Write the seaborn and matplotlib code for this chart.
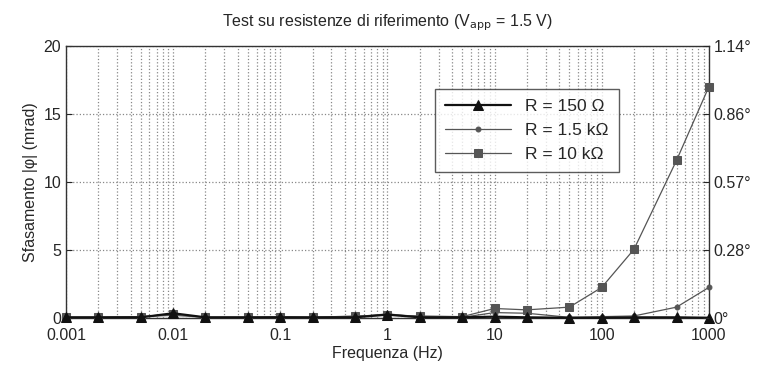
import numpy as np
import pandas as pd
import matplotlib
matplotlib.use('Agg')
import matplotlib.pyplot as plt
import seaborn as sns

# dati (mrad)
freq = [0.001, 0.002, 0.005, 0.01, 0.02, 0.05, 0.1, 0.2, 0.5, 1,
        2, 5, 10, 20, 50, 100, 200, 500, 1000]
r150 = [0.05, 0.05, 0.05, 0.35, 0.05, 0.05, 0.05, 0.05, 0.05, 0.25,
        0.05, 0.05, 0.1, 0.05, 0.02, 0.02, 0.05, 0.05, 0.02]
r1k5 = [0.05, 0.05, 0.1, 0.2, 0.05, 0.05, 0.05, 0.05, 0.1, 0.3,
        0.1, 0.05, 0.4, 0.35, 0.05, 0.1, 0.15, 0.8, 2.25]
r10k = [0.05, 0.05, 0.1, 0.3, 0.05, 0.05, 0.1, 0.05, 0.15, 0.2,
        0.15, 0.1, 0.7, 0.6, 0.8, 2.25, 5.05, 11.6, 17.0]
labels = ['R = 150 Ω', 'R = 1.5 kΩ', 'R = 10 kΩ']
yticks = [0, 5, 10, 15, 20]
yticks_deg = ['0°', '0.28°', '0.57°', '0.86°', '1.14°']
xticks = [0.001, 0.01, 0.1, 1, 10, 100, 1000]
xtick_labels = ['0.001', '0.01', '0.1', '1', '10', '100', '1000']

sns.set_style("white")
plt.rcParams['font.family'] = ['Liberation Sans', 'DejaVu Sans']

df = pd.DataFrame({
    'f': freq * 3,
    'phi': r150 + r1k5 + r10k,
    'R': [labels[0]] * len(freq) + [labels[1]] * len(freq) + [labels[2]] * len(freq),
})

fig = plt.figure(figsize=(7.63, 3.70), dpi=100)
ax = fig.add_axes([0.0865, 0.1405, 0.8425, 0.735])

stili = {
    labels[0]: dict(color='#111111', marker='^', markersize=7, linewidth=1.6, z=5),
    labels[1]: dict(color='#555555', marker='.', markersize=7, linewidth=0.9, z=3),
    labels[2]: dict(color='#555555', marker='s', markersize=5.5, linewidth=0.9, z=4),
}
for lab in labels:
    sub = df[df['R'] == lab]
    s = stili[lab]
    sns.lineplot(data=sub, x='f', y='phi', ax=ax, label=lab, color=s['color'],
                 marker=s['marker'], markersize=s['markersize'], linewidth=s['linewidth'],
                 markeredgecolor=s['color'], estimator=None, clip_on=False, zorder=s['z'])

ax.set_xscale('log')
ax.set_xlim(0.001, 1000)
ax.set_ylim(0, 20)
ax.set_xticks(xticks)
ax.set_xticklabels(xtick_labels)
ax.set_yticks(yticks)
ax.grid(True, which='major', linestyle=':', color='#888888', linewidth=0.9)
ax.grid(True, which='minor', axis='x', linestyle=':', color='#888888', linewidth=0.9)
ax.tick_params(direction='in', labelsize=11.5, length=4)
ax.tick_params(axis='x', pad=7)
ax.tick_params(which='minor', direction='in', length=2)
for sp in ax.spines.values():
    sp.set_color('#333333')
    sp.set_linewidth(1.0)

ax.set_xlabel('Frequenza (Hz)', fontsize=11.5, labelpad=2)
ax.set_ylabel('Sfasamento |φ| (mrad)', fontsize=11.5)
ax.set_title('Test su resistenze di riferimento (V$_{\\rm app}$ = 1.5 V)', fontsize=11.5, pad=14)

ax2 = ax.twinx()
ax2.set_ylim(0, 20)
ax2.set_yticks(yticks)
ax2.set_yticklabels(yticks_deg)
ax2.tick_params(direction='in', labelsize=11.5, length=4)
for sp in ax2.spines.values():
    sp.set_visible(False)

leg = ax.legend(loc='upper left', bbox_to_anchor=(0.56, 0.875), fontsize=12.5,
                frameon=True, fancybox=False, edgecolor='#333333',
                handlelength=3.8, borderpad=0.6, labelspacing=0.5)
leg.get_frame().set_linewidth(1.0)
leg.set_zorder(10)

fig.savefig('out.png', dpi=100)
